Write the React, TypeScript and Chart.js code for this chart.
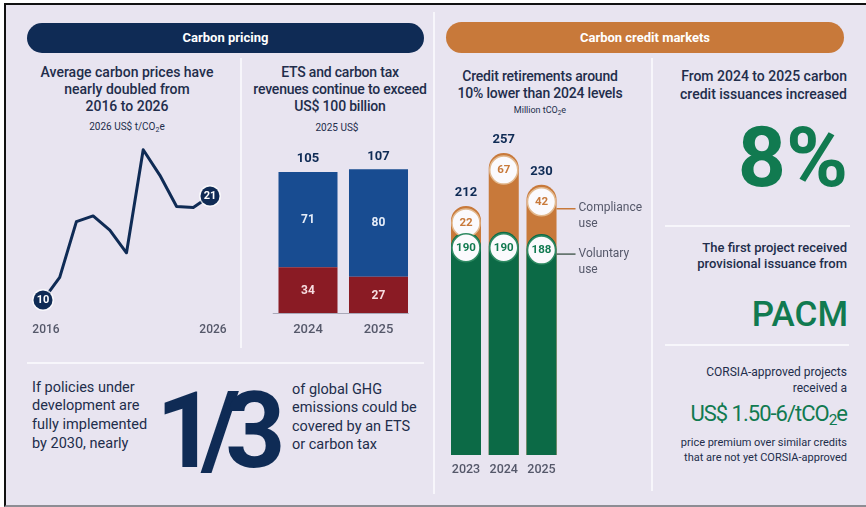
import React, { useEffect, useRef } from 'react';
import { Chart, registerables } from 'chart.js';

Chart.register(...registerables);

// ---------- data ----------
const priceYears = ['2016', '2017', '2018', '2019', '2020', '2021', '2022', '2023', '2024', '2025', '2026'];
const priceValues = [10, 12.4, 18.3, 18.9, 17.4, 15.0, 25.9, 23.2, 19.9, 19.8, 21];

const revenueYears = ['2024', '2025'];
const etsRevenue = [71, 80];
const taxRevenue = [34, 27];

const creditYears = ['2023', '2024', '2025'];
const voluntaryUse = [190, 190, 188];
const complianceUse = [22, 67, 42];

// ---------- styles ----------
const NAVY = '#0f2b55';
const TEXT = '#222d4b';
const GREEN = '#0c6a46';
const GREEN_TXT = '#117a50';
const ORANGE = '#c8793a';
const BLUE = '#184c91';
const RED = '#8a1b24';
const GRAY = '#55586a';
const BG = '#e8e4f0';
const LINE = '#f7f6fb';
const FONT = 'Roboto, "Open Sans", sans-serif';

function ChartCanvas({ l, t, w, h, config }: { l: number; t: number; w: number; h: number; config: () => any }) {
  const ref = useRef<HTMLCanvasElement>(null);
  useEffect(() => {
    if (!ref.current) return;
    const chart = new Chart(ref.current, config());
    return () => chart.destroy();
  }, []);
  return (
    <canvas
      ref={ref}
      width={w}
      height={h}
      style={{ position: 'absolute', left: l, top: t, width: w, height: h, display: 'block' }}
    />
  );
}

const baseOptions = (padding: any, yMin: number, yMax: number) => ({
  animation: false,
  responsive: false,
  devicePixelRatio: 1,
  events: [],
  layout: { padding },
  plugins: { legend: { display: false }, tooltip: { enabled: false } },
  scales: {
    x: { display: false },
    y: { display: false, min: yMin, max: yMax },
  },
});

// ---------- line chart ----------
const priceConfig = () => ({
  type: 'line',
  data: {
    labels: priceYears,
    datasets: [
      {
        data: priceValues,
        borderColor: NAVY,
        borderWidth: 3,
        pointRadius: 0,
        tension: 0,
        clip: false,
        borderJoinStyle: 'round',
        borderCapStyle: 'round',
      },
    ],
  },
  options: baseOptions({ left: 23, right: 23, top: 9.4, bottom: 30.8 }, 8.5, 27),
  plugins: [
    {
      id: 'priceLabels',
      afterDatasetsDraw(chart: any) {
        const ctx = chart.ctx;
        const meta = chart.getDatasetMeta(0);
        const last = priceValues.length - 1;
        ctx.save();
        [0, last].forEach((i) => {
          const p = meta.data[i];
          ctx.beginPath();
          ctx.arc(p.x, p.y, 11, 0, Math.PI * 2);
          ctx.fillStyle = 'rgba(255,255,255,0.75)';
          ctx.fill();
          ctx.beginPath();
          ctx.arc(p.x, p.y, 9.5, 0, Math.PI * 2);
          ctx.fillStyle = NAVY;
          ctx.fill();
          ctx.fillStyle = '#ffffff';
          ctx.font = `700 11px ${FONT}`;
          ctx.textAlign = 'center';
          ctx.textBaseline = 'middle';
          ctx.fillText(String(priceValues[i]), p.x, p.y + 0.5);
          ctx.fillStyle = GRAY;
          ctx.font = `500 12px ${FONT}`;
          ctx.fillText(priceYears[i], p.x + 3, chart.chartArea.bottom + 16);
        });
        ctx.restore();
      },
    },
  ],
});

// ---------- revenue bars ----------
const revenueConfig = () => ({
  type: 'bar',
  data: {
    labels: revenueYears,
    datasets: [
      { data: taxRevenue, backgroundColor: RED, barPercentage: 0.837, categoryPercentage: 1 },
      { data: etsRevenue, backgroundColor: BLUE, barPercentage: 0.837, categoryPercentage: 1 },
    ],
  },
  options: (() => {
    const o: any = baseOptions({ left: 22.75, right: 21.25, top: 28.6, bottom: 32 }, 0, 115);
    o.scales.x.stacked = true;
    o.scales.y.stacked = true;
    return o;
  })(),
  plugins: [
    {
      id: 'revLabels',
      afterDatasetsDraw(chart: any) {
        const ctx = chart.ctx;
        const a = chart.chartArea;
        const red = chart.getDatasetMeta(0).data;
        const blue = chart.getDatasetMeta(1).data;
        ctx.save();
        ctx.strokeStyle = '#a9a8b8';
        ctx.lineWidth = 1;
        ctx.beginPath();
        ctx.moveTo(a.left, a.bottom + 0.5);
        ctx.lineTo(a.right - 5, a.bottom + 0.5);
        ctx.stroke();
        ctx.textAlign = 'center';
        ctx.textBaseline = 'middle';
        revenueYears.forEach((yr, i) => {
          const r = red[i];
          const b = blue[i];
          ctx.font = `700 12px ${FONT}`;
          ctx.fillStyle = '#f6dde0';
          ctx.fillText(String(taxRevenue[i]), r.x, (r.y + r.base) / 2 + 1);
          ctx.fillStyle = '#e6edf8';
          ctx.fillText(String(etsRevenue[i]), b.x, (b.y + b.base) / 2);
          ctx.fillStyle = NAVY;
          ctx.font = `700 13px ${FONT}`;
          ctx.fillText(String(etsRevenue[i] + taxRevenue[i]), b.x, b.y - 13);
          ctx.fillStyle = GRAY;
          ctx.font = `500 13px ${FONT}`;
          ctx.fillText(yr, r.x, a.bottom + 17);
        });
        ctx.restore();
      },
    },
  ],
});

// ---------- credit bars ----------
const creditTotals = voluntaryUse.map((v, i) => v + complianceUse[i]);
const creditConfig = () => ({
  type: 'bar',
  data: {
    labels: creditYears,
    datasets: [
      {
        data: voluntaryUse,
        backgroundColor: GREEN,
        borderRadius: { topLeft: 15, topRight: 15, bottomLeft: 0, bottomRight: 0 },
        barPercentage: 0.795,
        categoryPercentage: 1,
        grouped: false,
      },
      {
        data: creditTotals,
        backgroundColor: ORANGE,
        borderRadius: { topLeft: 15, topRight: 15, bottomLeft: 0, bottomRight: 0 },
        barPercentage: 0.795,
        categoryPercentage: 1,
        grouped: false,
      },
    ],
  },
  options: baseOptions({ left: 7.1, right: 89.6, top: 11, bottom: 30 }, 0, 280),
  plugins: [
    {
      id: 'creditLabels',
      afterDatasetsDraw(chart: any) {
        const ctx = chart.ctx;
        const a = chart.chartArea;
        const g = chart.getDatasetMeta(0).data;
        const o = chart.getDatasetMeta(1).data;
        ctx.save();
        ctx.textAlign = 'center';
        ctx.textBaseline = 'middle';
        const circle = (x: number, y: number, stroke: string, color: string, txt: string) => {
          ctx.beginPath();
          ctx.arc(x, y, 14, 0, Math.PI * 2);
          ctx.fillStyle = '#fbfafd';
          ctx.fill();
          ctx.lineWidth = 1.5;
          ctx.strokeStyle = stroke;
          ctx.stroke();
          ctx.fillStyle = color;
          ctx.font = `700 11.5px ${FONT}`;
          ctx.fillText(txt, x, y + 0.5);
        };
        let annoOrange = 0;
        let annoGreen = 0;
        creditYears.forEach((yr, i) => {
          const gy = g[i].y + 16;
          const oy = o[i].y + 17;
          circle(o[i].x, oy, '#e2b98f', ORANGE, String(complianceUse[i]));
          circle(g[i].x, gy, '#2f8a62', GREEN_TXT, String(voluntaryUse[i]));
          ctx.fillStyle = NAVY;
          ctx.font = `700 13px ${FONT}`;
          ctx.fillText(String(creditTotals[i]), o[i].x, o[i].y - 13);
          ctx.fillStyle = GRAY;
          ctx.font = `500 12.5px ${FONT}`;
          ctx.fillText(yr, g[i].x, a.bottom + 15);
          annoOrange = oy + 7;
          annoGreen = gy + 4;
        });
        const last = g[g.length - 1];
        const right = last.x + last.width / 2;
        ctx.lineWidth = 1.5;
        ctx.strokeStyle = ORANGE;
        ctx.beginPath();
        ctx.moveTo(right, annoOrange);
        ctx.lineTo(right + 19, annoOrange);
        ctx.stroke();
        ctx.strokeStyle = '#4f6259';
        ctx.beginPath();
        ctx.moveTo(right, annoGreen);
        ctx.lineTo(right + 19, annoGreen);
        ctx.stroke();
        ctx.textAlign = 'left';
        ctx.fillStyle = GRAY;
        ctx.font = `400 12px ${FONT}`;
        ctx.fillText('Compliance', right + 22, annoOrange - 1);
        ctx.fillText('use', right + 22, annoOrange + 15);
        ctx.fillText('Voluntary', right + 22, annoGreen);
        ctx.fillText('use', right + 22, annoGreen + 16);
        ctx.restore();
      },
    },
  ],
});

// ---------- text helper ----------
function T({
  l, t, w, align = 'left', size, weight = 500, color = TEXT, lh, ls, children,
}: {
  l: number; t: number; w: number; align?: any; size: number; weight?: number; color?: string; lh: number; ls?: number; children: any;
}) {
  return (
    <div
      style={{
        position: 'absolute', left: l, top: t, width: w, textAlign: align, fontSize: size,
        fontWeight: weight, color, lineHeight: lh + 'px', whiteSpace: 'nowrap', letterSpacing: ls,
      }}
    >
      {children}
    </div>
  );
}

const Rule = ({ l, t, w, h }: { l: number; t: number; w: number; h: number }) => (
  <div style={{ position: 'absolute', left: l, top: t, width: w, height: h, background: LINE }} />
);

export default function App() {
  const sub = { fontSize: '0.7em', verticalAlign: '-0.25em' } as const;
  return (
    <div style={{ position: 'fixed', left: 0, top: 0, width: 866, height: 507, background: '#fff', overflow: 'hidden', fontFamily: FONT }}>
      <div style={{ position: 'absolute', left: 4, top: 3, width: 862, height: 504, boxSizing: 'border-box', background: BG, borderTop: '2px solid #111', borderLeft: '2px solid #111', borderBottom: '2px solid #8d8d94' }} />

      {/* dividers */}
      <Rule l={433} t={12} w={2} h={482} />
      <Rule l={240} t={58} w={2} h={290} />
      <Rule l={27} t={362} w={397} h={2} />
      <Rule l={651} t={58} w={2} h={433} />
      <Rule l={665} t={225} w={185} h={2} />
      <Rule l={665} t={344} w={184} h={2} />

      {/* headers */}
      <div style={{ position: 'absolute', left: 27, top: 23, width: 397, height: 30, borderRadius: 15, background: NAVY, color: '#fff', fontWeight: 700, fontSize: 13, lineHeight: '30px', textAlign: 'center' }}>Carbon pricing</div>
      <div style={{ position: 'absolute', left: 446, top: 22, width: 398, height: 31, borderRadius: 15.5, background: ORANGE, color: '#fff', fontWeight: 700, fontSize: 13, lineHeight: '31px', textAlign: 'center' }}>Carbon credit markets</div>

      {/* titles */}
      <T l={17} t={63.5} w={220} align="center" size={14} lh={17}>Average carbon prices have<br />nearly doubled from<br />2016 to 2026</T>
      <T l={17} t={121} w={220} align="center" size={10} weight={400} lh={12}>2026 US$ t/CO<span style={sub}>2</span>e</T>
      <T l={250} t={63.5} w={180} align="center" size={14} lh={17} ls={-0.2}>ETS and carbon tax<br />revenues continue to exceed<br />US$ 100 billion</T>
      <T l={247} t={122} w={180} align="center" size={10} weight={400} lh={12}>2025 US$</T>
      <T l={450} t={67.5} w={180} align="center" size={14} lh={17} ls={-0.2}>Credit retirements around<br />10% lower than 2024 levels</T>
      <T l={450} t={104} w={180} align="center" size={9} weight={400} lh={12}>Million tCO<span style={sub}>2</span>e</T>

      {/* right column */}
      <T l={647} t={67} w={200} align="right" size={14} lh={18}>From 2024 to 2025 carbon<br />credit issuances increased</T>
      <T l={647} t={116} w={201} align="right" size={84} weight={700} lh={84} color={GREEN_TXT}>8%</T>
      <T l={647} t={240} w={200} align="right" size={13} lh={16}>The first project received<br />provisional issuance from</T>
      <T l={647} t={297} w={201} align="right" size={35} lh={35} color={GREEN_TXT}>PACM</T>
      <T l={647} t={364} w={200} align="right" size={12} weight={400} lh={16}>CORSIA-approved projects<br />received a</T>
      <T l={627} t={403} w={220} align="right" size={22} weight={400} lh={22} ls={-1} color={GREEN_TXT}>US$ 1.50-6/tCO<span style={sub}>2</span>e</T>
      <T l={647} t={434.5} w={200} align="right" size={11} weight={400} lh={15}>price premium over similar credits<br />that are not yet CORSIA-approved</T>

      {/* bottom left */}
      <T l={32} t={378.6} w={130} size={14.5} weight={400} lh={18.7}>If policies under<br />development are<br />fully implemented<br />by 2030, nearly</T>
      <T l={156} t={379} w={140} size={105} weight={700} lh={105} ls={-15} color={NAVY}>1/3</T>
      <T l={292} t={380.7} w={140} size={14.5} weight={400} lh={18.5}>of global GHG<br />emissions could be<br />covered by an ETS<br />or carbon tax</T>

      {/* charts */}
      <ChartCanvas l={20} t={130} w={213} h={215} config={priceConfig} />
      <ChartCanvas l={250} t={130} w={185} h={215} config={revenueConfig} />
      <ChartCanvas l={440} t={115} w={210} h={370} config={creditConfig} />
    </div>
  );
}
